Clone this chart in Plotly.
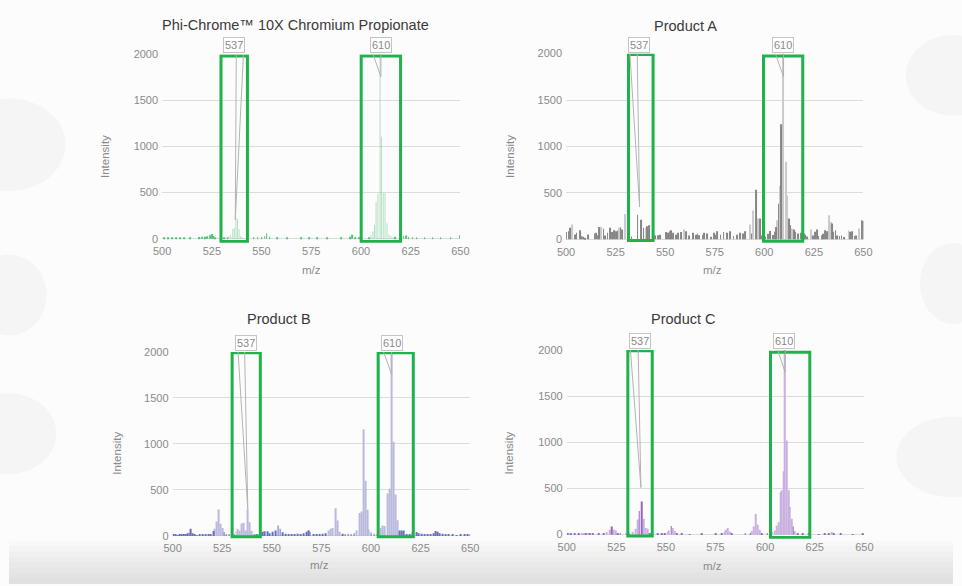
import plotly.graph_objects as go

# ---------------- data ----------------
X_TICKS = [500, 525, 550, 575, 600, 625, 650]
Y_TICKS = [0, 500, 1000, 1500, 2000]
TITLES = ["Phi-Chrome™ 10X Chromium Propionate", "Product A", "Product B", "Product C"]
PEAK_LABELS = ["537", "610"]

# Panel 1 - Phi-Chrome
p1_dark_mz = [501, 503, 505, 507, 509, 511, 514, 518.7, 520, 521.7, 522.8, 524.2, 525, 525.8, 526.6, 531, 533,
              546, 548, 550, 551.5, 552.6, 554, 558, 563, 570, 574, 578, 583, 590, 594.5, 595.7, 597, 599, 604,
              617, 620, 621.5, 622.8, 624, 626, 628, 632, 636, 640, 645, 649.6]
p1_dark_int = [8, 10, 8, 12, 8, 10, 6, 18, 22, 20, 26, 38, 50, 30, 12, 10, 15,
               8, 12, 18, 25, 60, 20, 10, 6, 8, 8, 6, 12, 10, 20, 43, 15, 10, 12,
               20, 15, 30, 35, 18, 12, 10, 10, 8, 6, 8, 38]
p1_light_mz = [532.5, 533.5, 534.5, 535.5, 536.3, 537.1, 537.9, 538.7, 539.5, 540.5,
               605.0, 606.0, 606.8, 607.6, 608.5, 609.6, 610.3, 611.2, 612.1, 613.1, 614.1, 615.1, 616.0]
p1_light_int = [15, 30, 40, 105, 115, 220, 215, 105, 30, 12,
                40, 80, 150, 400, 488, 2600, 1105, 495, 495, 167, 45, 30, 15]

# Panel 2 - Product A
p2_dark_mz = [500.3, 501.2, 502.0, 504.5, 505.3, 506.9, 507.8, 508.6, 509.5, 511.0,
              514.4, 515.2, 516.0, 516.8, 518.9, 519.6, 521.0, 522.3, 523.2, 524.3,
              525.1, 526.0, 527.5, 528.4, 531.2, 532.0, 533.0, 536.1, 537.8, 539.1,
              541.0, 542.0, 544.9, 546.5, 547.3, 550.6, 551.5, 552.3, 553.1, 554.0,
              555.6, 556.5, 558.1, 560.6, 562.2, 563.9, 565.5, 566.3, 567.2, 568.8,
              569.6, 571.3, 573.0, 574.6, 575.4, 576.2, 577.9, 579.5, 581.2, 582.8,
              584.5, 586.1, 587.8, 589.4, 590.3, 593.5, 595.7, 597.7, 599.0, 600.5,
              602.0, 603.0, 604.5, 605.3, 605.9, 607.2, 608.5, 612.5, 613.3, 614.9,
              615.7, 617.0, 618.5, 619.9, 620.7, 621.5, 624.5, 625.6, 626.5, 627.3,
              629.0, 629.8, 630.7, 631.8, 634.3, 635.0, 635.9, 636.8, 638.0, 639.0,
              640.2, 643.2, 644.2, 645.5, 646.3, 649.1, 649.8]
p2_dark_int = [78, 88, 124, 53, 70, 99, 35, 28, 18, 53,
               64, 70, 45, 134, 113, 40, 70, 124, 78, 99,
               88, 95, 131, 106, 88, 50, 30, 265, 212, 124,
               142, 152, 42, 45, 50, 78, 70, 88, 99, 70,
               50, 70, 78, 88, 42, 70, 50, 60, 45, 50,
               70, 62, 28, 70, 50, 88, 50, 78, 70, 88,
               35, 50, 70, 62, 88, 64, 535, 223, 40, 30,
               60, 90, 46, 81, 134, 382, 1240, 223, 152, 106,
               81, 64, 70, 64, 50, 30, 40, 81, 106, 35,
               45, 60, 99, 88, 170, 81, 99, 40, 35, 40,
               25, 81, 88, 35, 40, 205, 200]
p2_light_mz = [502.8, 517.6, 526.7, 530.0, 540.1, 559.7, 592.7, 594.4, 596.7, 606.5,
               607.8, 609.7, 610.9, 611.7, 614.1, 623.7, 632.8, 633.5, 642.5, 648.0]
p2_light_int = [160, 134, 124, 272, 124, 106, 160, 311, 223, 205,
                577, 2600, 835, 470, 117, 106, 258, 187, 99, 117]

# Panel 3 - Product B
p3_dark_mz = [500.5, 501.5, 502.5, 503.5, 504.5, 505.5, 506.5, 507.5, 508.3, 509.1,
              510.0, 511.0, 512.0, 513.5, 515.0, 516.5, 518.0, 519.0, 520.5, 526.0,
              527.0, 528.5, 530.0, 531.0, 541.0, 542.5, 544.0, 545.5, 546.5, 547.8,
              549.0, 550.5, 552.0, 553.2, 554.2, 555.3, 557.0, 558.5, 560.0, 561.5,
              563.0, 564.5, 566.0, 567.5, 568.4, 569.3, 571.0, 572.5, 574.0, 575.5,
              577.0, 585.5, 587.0, 588.5, 590.0, 591.5, 600.0, 601.5, 603.0, 614.5,
              615.5, 616.5, 618.0, 619.5, 621.0, 622.8, 624.0, 625.5, 627.0, 628.5,
              630.0, 631.5, 632.7, 633.6, 634.5, 636.0, 637.5, 639.0, 641.0, 643.0,
              645.0, 647.0, 648.5, 650.0]
p3_dark_int = [12, 15, 10, 12, 15, 20, 18, 30, 35, 79,
               30, 20, 10, 12, 15, 12, 15, 22, 53, 43,
               15, 20, 20, 25, 18, 15, 20, 45, 50, 50,
               30, 45, 60, 114, 79, 40, 25, 15, 20, 12,
               25, 20, 30, 45, 61, 45, 20, 15, 18, 25,
               30, 25, 18, 15, 20, 30, 36, 25, 20, 60,
               60, 60, 15, 20, 35, 43, 30, 25, 20, 15,
               20, 30, 54, 45, 30, 25, 20, 15, 12, 10,
               12, 15, 20, 18]
p3_light_mz = [521.3, 522.3, 523.2, 524.2, 525.1, 532.0, 533.0, 534.0, 534.7, 535.6, 536.6, 537.9, 539.0, 540.0,
               578.5, 579.5, 580.5, 581.9, 583.2, 584.2, 592.5, 594.0, 595.3, 596.4, 597.4, 598.1, 599.0,
               604.7, 605.6, 606.8, 608.4, 609.3, 610.4, 611.4, 612.4, 613.4]
p3_light_int = [79, 157, 286, 132, 86, 50, 79, 60, 135, 143, 60, 286, 150, 55,
                60, 79, 86, 300, 168, 45, 60, 250, 265, 1160, 600, 285, 70,
                86, 114, 107, 460, 512, 2600, 1025, 450, 170]

# Panel 4 - Product C
p4_dark_mz = [500.5, 502.0, 504.0, 506.0, 509.5, 511.5, 513.0, 516.0, 518.5, 522.7,
              525.8, 527.0, 530.0, 531.5, 536.6, 537.9, 542.0, 546.0, 548.0, 549.5,
              552.7, 555.3, 558.0, 562.0, 568.0, 575.0, 578.0, 583.0, 590.0, 592.5,
              598.3, 601.0, 614.2, 616.5, 619.0, 622.0, 627.0, 630.0, 632.0, 634.5,
              638.0, 644.0, 649.0]
p4_dark_int = [8, 10, 8, 12, 15, 12, 8, 8, 12, 89,
               15, 8, 10, 15, 256, 360, 15, 8, 10, 15,
               93, 15, 8, 6, 8, 8, 10, 15, 8, 15,
               15, 10, 89, 15, 8, 8, 6, 10, 12, 12,
               8, 6, 12]
p4_light_mz = [507.5, 508.5, 510.5, 520.2, 521.5, 523.8, 524.7, 533.5, 534.8, 535.8, 538.9, 539.9, 540.9,
               550.7, 551.5, 553.5, 554.4, 579.8, 580.3, 581.1, 582.0, 593.2, 594.1, 595.1, 596.1, 597.2,
               603.5, 604.8, 605.8, 606.6, 607.6, 608.5, 609.3, 610.1, 610.9, 611.8, 612.6, 613.4, 615.1, 633.6]
p4_light_int = [15, 18, 18, 28, 53, 57, 46, 28, 64, 164, 171, 71, 64,
                28, 46, 71, 39, 28, 53, 71, 35, 39, 89, 224, 107, 53,
                28, 46, 100, 135, 463, 480, 687, 2600, 1018, 480, 300, 171, 39, 28]

# ---------------- layout / styling config ----------------
FONT = "Liberation Sans, Arial, sans-serif"
TICK_COLOR = "#8a8a8a"
GREEN = "#1fb24a"
Y_RANGE = [-45, 2000]

panels = [
    dict(dark=(p1_dark_mz, p1_dark_int), light=(p1_light_mz, p1_light_int),
         dark_color="#4cc474", light_color="rgba(110,200,140,0.5)",
         xdom=[0.1622, 0.4782], ydom=[0.5903, 0.9164],
         title_xy=(0.304, 0.9676), ytitle_xy=(0.101, 0.7394), xtitle_xy=(0.320, 0.543),
         boxes=[(529.6, 542.9, -30, 1982), (600.1, 619.9, -30, 1982)],
         callouts=[(536.2, 537.3, 540.9, 536.8, 206), (610.0, 606.1, 610.0, 610.0, 1757)]),
    dict(dark=(p2_dark_mz, p2_dark_int), light=(p2_light_mz, p2_light_int),
         dark_color="#858585", light_color="#cacaca",
         xdom=[0.5901, 0.9051], ydom=[0.5891, 0.9176],
         title_xy=(0.7162, 0.9650), ytitle_xy=(0.530, 0.7394), xtitle_xy=(0.745, 0.543),
         boxes=[(531.5, 543.9, -12, 1990), (599.6, 619.4, -22, 1975)],
         callouts=[(536.6, 532.2, 535.9, 537.1, 350), (609.6, 605.6, 609.7, 609.7, 1752)]),
    dict(dark=(p3_dark_mz, p3_dark_int), light=(p3_light_mz, p3_light_int),
         dark_color="#6470bd", light_color="#b9b9de",
         xdom=[0.1733, 0.4886], ydom=[0.0760, 0.4015],
         title_xy=(0.2859, 0.4590), ytitle_xy=(0.115, 0.2264), xtitle_xy=(0.329, 0.033),
         boxes=[(530.0, 544.2, -10, 1990), (603.6, 621.3, -10, 1990)],
         callouts=[(537.1, 533.0, 536.3, 537.9, 289), (610.4, 606.3, 610.4, 610.4, 1757)]),
    dict(dark=(p4_dark_mz, p4_dark_int), light=(p4_light_mz, p4_light_int),
         dark_color="#9468ba", light_color="#c9b0e0",
         xdom=[0.5908, 0.9061], ydom=[0.0782, 0.4050],
         title_xy=(0.7144, 0.4590), ytitle_xy=(0.530, 0.2264), xtitle_xy=(0.745, 0.031),
         boxes=[(530.8, 543.1, -15, 1990), (602.7, 622.5, -30, 1975)],
         callouts=[(537.1, 532.1, 536.0, 537.4, 510), (609.5, 606.3, 610.1, 610.1, 1757)]),
]

fig = go.Figure()
layout = dict(
    width=962, height=586,
    margin=dict(l=0, r=0, t=0, b=0),
    paper_bgcolor="#fcfcfc", plot_bgcolor="rgba(0,0,0,0)",
    barmode="overlay", showlegend=False,
    font=dict(family=FONT, color=TICK_COLOR),
)
shapes = []
annotations = []

# soft background decorations (paper coordinates)
for k in range(8):
    shapes.append(dict(type="rect", xref="paper", yref="paper", x0=0, x1=1, y0=0,
                       y1=0.075 * (k + 1) / 8, fillcolor="rgba(170,170,170,0.05)",
                       line=dict(width=0), layer="below"))
for (cx, cy, rx, ry) in [(0.0, 0.76, 0.06, 0.08), (0.0, 0.50, 0.04, 0.07), (0.0, 0.26, 0.05, 0.07),
                         (1.0, 0.88, 0.05, 0.07), (1.0, 0.52, 0.035, 0.07), (1.0, 0.22, 0.06, 0.07)]:
    shapes.append(dict(type="circle", xref="paper", yref="paper", x0=cx - rx, x1=cx + rx,
                       y0=cy - ry, y1=cy + ry, fillcolor="#f5f5f5", line=dict(width=0), layer="below"))

for i, p in enumerate(panels, start=1):
    xa = "x" if i == 1 else f"x{i}"
    ya = "y" if i == 1 else f"y{i}"
    for key, col, w in (("light", p["light_color"], 0.5), ("dark", p["dark_color"], 0.36)):
        mz, inten = p[key]
        fig.add_trace(go.Bar(x=mz, y=inten, width=w, marker=dict(color=col, line=dict(width=0)),
                             xaxis=xa, yaxis=ya, hoverinfo="x+y"))
    layout[f"xaxis{'' if i == 1 else i}"] = dict(
        domain=p["xdom"], range=[500, 650], anchor=ya, tickvals=X_TICKS,
        showgrid=False, zeroline=False, showline=False, ticks="",
        tickfont=dict(size=11, color=TICK_COLOR, family=FONT))
    layout[f"yaxis{'' if i == 1 else i}"] = dict(
        domain=p["ydom"], range=Y_RANGE, anchor=xa, tickvals=Y_TICKS,
        showgrid=True, gridcolor="#dcdcdc", gridwidth=1.3, zeroline=False, showline=False,
        ticks="", ticklabelstandoff=3,
        tickfont=dict(size=11, color=TICK_COLOR, family=FONT))
    # green highlight boxes
    for (x0, x1, y0, y1) in p["boxes"]:
        shapes.append(dict(type="rect", xref=xa, yref=ya, x0=x0, x1=x1, y0=y0, y1=y1,
                           line=dict(color=GREEN, width=3), fillcolor="rgba(0,0,0,0)", layer="above"))
    # peak callouts
    for lab, (lx, left, right, tipx, tipy) in zip(PEAK_LABELS, p["callouts"]):
        shapes.append(dict(type="path", xref=xa, yref=ya,
                           path=f"M {left},{2000} L {tipx},{tipy} L {right},{2000}",
                           line=dict(color="#b3b3b3", width=1), layer="above"))
        annotations.append(dict(x=lx, y=2000, xref=xa, yref=ya, text=lab, showarrow=False,
                                yanchor="bottom", yshift=1, bgcolor="#ffffff",
                                bordercolor="#c4c4c4", borderwidth=1, borderpad=1,
                                font=dict(size=11, color="#8a8a8a", family=FONT)))
    # titles
    annotations.append(dict(x=p["title_xy"][0], y=p["title_xy"][1], xref="paper", yref="paper",
                            text=TITLES[i - 1], showarrow=False, xanchor="center", yanchor="middle",
                            font=dict(size=14.5, color="#3a3a3a", family=FONT)))
    annotations.append(dict(x=p["ytitle_xy"][0], y=p["ytitle_xy"][1], xref="paper", yref="paper",
                            text="Intensity", textangle=-90, showarrow=False,
                            xanchor="center", yanchor="middle",
                            font=dict(size=11.5, color="#8a8a8a", family=FONT)))
    annotations.append(dict(x=p["xtitle_xy"][0], y=p["xtitle_xy"][1], xref="paper", yref="paper",
                            text="m/z", showarrow=False, xanchor="center", yanchor="middle",
                            font=dict(size=11.5, color="#8a8a8a", family=FONT)))

layout["shapes"] = shapes
layout["annotations"] = annotations
fig.update_layout(**layout)
fig.write_html("out.html", config={"displayModeBar": False},
               post_script="document.body.style.margin='0';document.body.style.background='#fcfcfc';")
